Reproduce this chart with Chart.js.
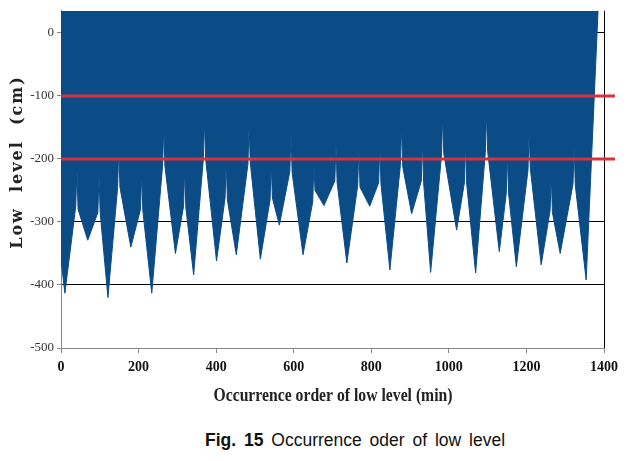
<!DOCTYPE html>
<html>
<head>
<meta charset="utf-8">
<script src="https://cdn.jsdelivr.net/npm/chart.js@4/dist/chart.umd.min.js"></script>
<style>
  html, body { margin: 0; padding: 0; background: #fff; }
  #wrap { position: relative; width: 638px; height: 461px; }
  #caption {
    position: absolute; left: 205px; top: 430px; white-space: nowrap; color: #111;
    font-family: 'Liberation Sans', Arial, sans-serif; font-size: 17.5px; word-spacing: 3px;
  }
</style>
</head>
<body>
<div id="wrap">
  <canvas id="myChart" width="638" height="420"></canvas>
  <div id="caption"><b>Fig. 15</b> Occurrence oder of low level</div>
</div>
<script>
// turning points of the low level record
const minutes = [0, 10,
  38, 41, 44, 69, 95, 98, 101, 121, 146, 149, 152, 180, 205, 208, 211, 234,
  262, 265, 268, 295, 316, 319, 322, 342, 367, 370, 373, 401, 423, 426, 429, 452,
  482, 485, 488, 514, 539, 542, 545, 563, 590, 593, 596, 624, 649, 652, 655, 678,
  706, 709, 712, 737, 765, 768, 771, 796, 819, 822, 825, 848, 875, 878, 881, 904,
  929, 932, 935, 953, 981, 984, 987, 1020, 1040, 1043, 1046, 1069, 1094, 1097, 1100, 1130,
  1148, 1151, 1154, 1174, 1204, 1207, 1210, 1238, 1261, 1264, 1267, 1287, 1320, 1323, 1326, 1354,
  1385];
const levels = [-360, -413,
  -275, -215, -280, -329, -285, -223, -285, -420, -245, -182, -245, -340, -280, -221, -282, -413,
  -210, -147, -212, -350, -275, -215, -278, -384, -200, -139, -200, -362, -262, -202, -265, -352,
  -208, -145, -206, -359, -265, -205, -262, -305, -220, -158, -222, -352, -268, -210, -250, -274,
  -235, -175, -238, -365, -242, -182, -245, -275, -238, -177, -240, -376, -210, -147, -212, -287,
  -235, -174, -238, -380, -195, -131, -192, -313, -238, -176, -240, -381, -190, -126, -188, -347,
  -255, -194, -255, -371, -218, -155, -215, -368, -282, -226, -285, -350, -240, -179, -242, -392,
  40];
const blackLines = [0, -300, -400];
const redLines = [-100, -200];
const xTitle = 'Occurrence order of low level (min)';
const yTitle = 'Low  level  (cm)';

const ctx = document.querySelector('#myChart').getContext('2d');
const blue = '#0b4c87';

// red limit lines and axis titles
const overlay = {
  id: 'overlay',
  afterDatasetsDraw(chart) {
    const { ctx, chartArea, scales: { y } } = chart;
    ctx.save();
    ctx.strokeStyle = '#d8323c';
    ctx.lineWidth = 3;
    redLines.forEach(v => {
      const py = y.getPixelForValue(v);
      ctx.beginPath();
      ctx.moveTo(chartArea.left, py);
      ctx.lineTo(chartArea.right + 11, py);
      ctx.stroke();
    });
    ctx.restore();
  },
  afterDraw(chart) {
    const { ctx } = chart;
    ctx.save();
    // x title, condensed
    ctx.font = 'bold 19px "Liberation Serif", serif';
    ctx.fillStyle = '#222';
    ctx.textAlign = 'center';
    ctx.textBaseline = 'middle';
    const w = ctx.measureText(xTitle).width;
    ctx.translate(333, 396);
    ctx.scale(239 / w, 1);
    ctx.fillText(xTitle, 0, 0);
    ctx.restore();

    ctx.save();
    ctx.font = 'bold 16px "DejaVu Serif", serif';
    ctx.fillStyle = '#222';
    ctx.textAlign = 'center';
    ctx.textBaseline = 'middle';
    ctx.letterSpacing = '2px';
    ctx.translate(18, 162);
    ctx.rotate(-Math.PI / 2);
    ctx.fillText(yTitle, 0, 0);
    ctx.restore();
  }
};

const data = {
  datasets: [{
    data: minutes.map((m, i) => ({ x: m, y: levels[i] })),
    fill: 'end',
    backgroundColor: blue,
    borderColor: blue,
    borderWidth: 1,
    pointRadius: 0,
    tension: 0,
  }]
};

const config = {
  type: 'line',
  data: data,
  plugins: [overlay],
  options: {
    responsive: false,
    animation: false,
    layout: { padding: { top: 10, right: 34, left: 0, bottom: 22 } },
    plugins: { legend: { display: false }, tooltip: { enabled: false } },
    scales: {
      x: {
        type: 'linear',
        min: 0,
        max: 1400,
        afterFit: s => { s.height = 50; },
        ticks: {
          stepSize: 200,
          padding: 6,
          color: '#111',
          font: { family: '"Liberation Serif", serif', size: 14, weight: 'bold' },
          callback: value => String(value),
        },
        grid: {
          color: c => c.tick && c.tick.value === 1400 ? '#000' : 'rgba(0,0,0,0)',
          tickColor: '#888',
          tickLength: 5,
        },
        border: { color: '#888' },
      },
      y: {
        min: -500,
        max: 35,
        afterFit: s => { s.width = 61; },
        afterBuildTicks: s => { s.ticks = s.ticks.filter(t => t.value % 100 === 0); },
        ticks: {
          stepSize: 100,
          padding: 3,
          color: '#333',
          font: { family: '"Liberation Serif", serif', size: 13 },
        },
        grid: {
          color: c => c.tick && blackLines.includes(c.tick.value) ? '#000' : 'rgba(0,0,0,0)',
          tickColor: '#888',
          tickLength: 4,
        },
        border: { color: '#888' },
      }
    },
  }
};
const myChart = new Chart(ctx, config);
</script>
</body>
</html>
